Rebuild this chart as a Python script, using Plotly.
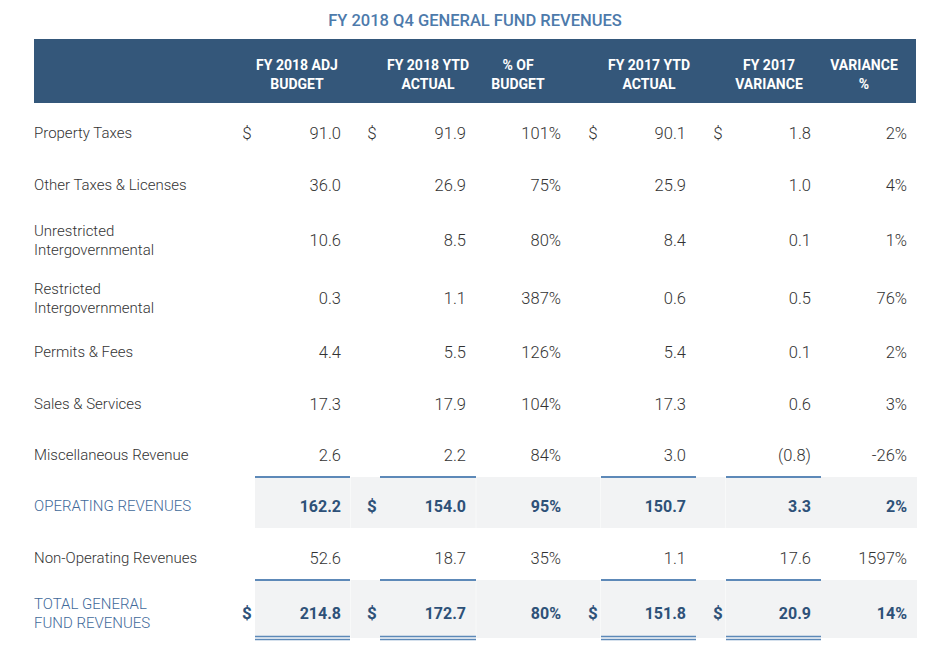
import plotly.graph_objects as go

# ---------------- data ----------------
row_labels = ["Property Taxes", "Other Taxes & Licenses", "Unrestricted<br>Intergovernmental",
              "Restricted<br>Intergovernmental", "Permits & Fees", "Sales & Services",
              "Miscellaneous Revenue", "OPERATING REVENUES", "Non-Operating Revenues",
              "TOTAL GENERAL<br>FUND REVENUES"]
col_headers = ["FY 2018 ADJ<br>BUDGET", "FY 2018 YTD<br>ACTUAL", "% OF<br>BUDGET",
               "FY 2017 YTD<br>ACTUAL", "FY 2017<br>VARIANCE", "VARIANCE<br>%"]
adj_budget_2018 = [91.0, 36.0, 10.6, 0.3, 4.4, 17.3, 2.6, 162.2, 52.6, 214.8]
ytd_actual_2018 = [91.9, 26.9, 8.5, 1.1, 5.5, 17.9, 2.2, 154.0, 18.7, 172.7]
pct_of_budget = [101, 75, 80, 387, 126, 104, 84, 95, 35, 80]
ytd_actual_2017 = [90.1, 25.9, 8.4, 0.6, 5.4, 17.3, 3.0, 150.7, 1.1, 151.8]
variance_2017 = [1.8, 1.0, 0.1, 0.5, 0.1, 0.6, -0.8, 3.3, 17.6, 20.9]
variance_pct = [2, 4, 1, 76, 2, 3, -26, 2, 1597, 14]
dollar_cols = {0: [0, 1, 3, 4], 7: [1], 9: [0, 1, 3, 4]}
title = "FY 2018 Q4 GENERAL FUND REVENUES"

# ---------------- layout constants (page pixel coordinates) ----------------
PAGE_W, PAGE_H = 950, 658
BODY_MARGIN = 8          # default <body> margin of the written page
TEXT_DY = 2.5            # optical centring of text on its row
row_y = [132, 184, 239, 297, 351, 403, 454, 505, 557, 612]
val_right = [341, 466, 561, 686, 811, 907]
dollar_x = [247, 372, None, 593, 718, None]
head_cx = [297, 428, 518, 649, 769, 864]
bold_rows = {7, 9}
FONT = "Roboto, Liberation Sans, sans-serif"
C_TXT = "#333333"
C_BOLD = "#2e5178"
C_LBL_B = "#41699a"
C_HEAD = "#34577a"
C_LINE = "#5d89b8"
C_SHADE = "#f2f3f4"


def fmt_num(v):
    return f"({abs(v):.1f})" if v < 0 else f"{v:.1f}"


def fmt_pct(v):
    return f"{v}%"


columns = [
    [fmt_num(v) for v in adj_budget_2018],
    [fmt_num(v) for v in ytd_actual_2018],
    [fmt_pct(v) for v in pct_of_budget],
    [fmt_num(v) for v in ytd_actual_2017],
    [fmt_num(v) for v in variance_2017],
    [fmt_pct(v) for v in variance_pct],
]
ty = [y + TEXT_DY for y in row_y]

fig = go.Figure()

# shapes: header band, shaded rows, underlines
shapes = [dict(type="rect", xref="x", yref="y", x0=34, x1=916, y0=39, y1=103,
               fillcolor=C_HEAD, line_width=0, layer="below")]
for r, (y0, y1) in {7: (477, 528), 9: (580, 638)}.items():
    shapes.append(dict(type="rect", xref="x", yref="y", x0=255, x1=917, y0=y0, y1=y1,
                       fillcolor=C_SHADE, line_width=0, layer="below"))
    for xb in (350.5, 476, 600.5, 725.5):
        shapes.append(dict(type="line", xref="x", yref="y", x0=xb, x1=xb, y0=y0, y1=y1,
                           line=dict(color="#f8f9f9", width=1), layer="below"))
ul_spans = [(255, 350), (380, 476), (601, 696), (726, 821)]
for (a, b) in ul_spans:
    for y in (477, 580):
        shapes.append(dict(type="line", xref="x", yref="y", x0=a, x1=b, y0=y, y1=y,
                           line=dict(color=C_LINE, width=2)))
    for y in (636.5, 639.5):
        shapes.append(dict(type="line", xref="x", yref="y", x0=a, x1=b, y0=y, y1=y,
                           line=dict(color=C_LINE, width=1.3)))
fig.update_layout(shapes=shapes)

# row labels
fig.add_trace(go.Scatter(
    x=[34] * len(row_labels), y=ty, mode="text", text=row_labels,
    textposition="middle right",
    textfont=dict(family=FONT, size=15, weight=300,
                  color=[C_LBL_B if i in bold_rows else C_TXT for i in range(len(row_labels))]),
    hoverinfo="skip", showlegend=False))

# numeric columns
for c, vals in enumerate(columns):
    txt = [f"<b>{v}</b>" if i in bold_rows else v for i, v in enumerate(vals)]
    fig.add_trace(go.Scatter(
        x=[val_right[c]] * len(vals), y=ty, mode="text", text=txt,
        textposition="middle left",
        textfont=dict(family=FONT, size=[16 if i in bold_rows else 16.5 for i in range(len(vals))],
                      weight=300,
                      color=[C_BOLD if i in bold_rows else C_TXT for i in range(len(vals))]),
        hoverinfo="skip", showlegend=False))

# dollar signs
dx, dy, dt, dc = [], [], [], []
for r, cols in dollar_cols.items():
    for c in cols:
        dx.append(dollar_x[c]); dy.append(ty[r])
        dt.append("<b>$</b>" if r in bold_rows else "$")
        dc.append(C_BOLD if r in bold_rows else C_TXT)
fig.add_trace(go.Scatter(x=dx, y=dy, mode="text", text=dt, textposition="middle center",
                         textfont=dict(family=FONT, size=17, weight=300, color=dc),
                         hoverinfo="skip", showlegend=False))

# header labels
fig.add_trace(go.Scatter(x=head_cx, y=[76] * len(head_cx), mode="text",
                         text=[f"<b>{h}</b>" for h in col_headers],
                         textposition="middle center",
                         textfont=dict(family=FONT, size=14, color="white"),
                         hoverinfo="skip", showlegend=False))

# title
fig.add_trace(go.Scatter(x=[475], y=[22], mode="text", text=[title],
                         textposition="middle center",
                         textfont=dict(family=FONT, size=16.5, weight=500, color="#4d7aab"),
                         hoverinfo="skip", showlegend=False))

# figure fits inside the window after the page's body margin; axis ranges
# are offset so that axis units equal page pixels
fig.update_layout(
    width=PAGE_W - BODY_MARGIN, height=PAGE_H - BODY_MARGIN,
    margin=dict(l=0, r=0, t=0, b=0, pad=0),
    paper_bgcolor="white", plot_bgcolor="white",
    xaxis=dict(range=[BODY_MARGIN, PAGE_W], visible=False, fixedrange=True),
    yaxis=dict(range=[PAGE_H, BODY_MARGIN], visible=False, fixedrange=True),
)

fig.write_html("out.html")
